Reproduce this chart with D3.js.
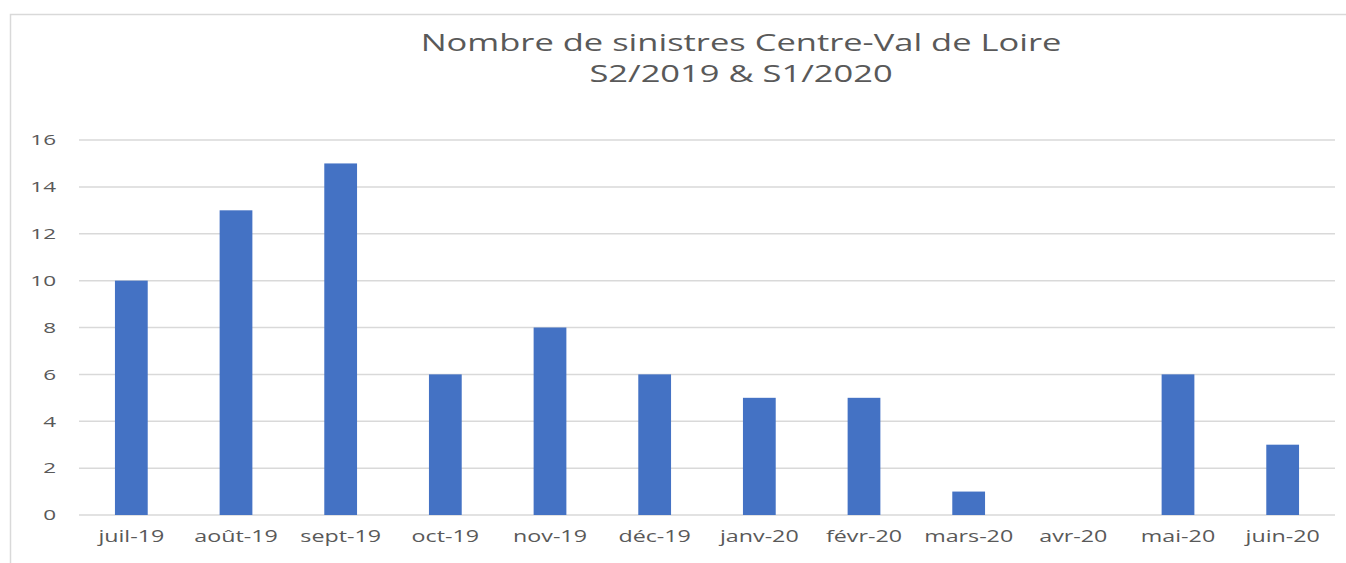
<!DOCTYPE html>
<html>
<head>
<meta charset="utf-8">
<script src="https://cdn.jsdelivr.net/npm/d3@7"></script>
<style>
  body { margin: 0; background: #fff; }
  text { font-family: "Open Sans", sans-serif; fill: #595959; }
</style>
</head>
<body>
<svg id="chart" width="1346" height="563"></svg>
<script>
// data
var months = [ "juil-19", "août-19", "sept-19", "oct-19", "nov-19", "déc-19",
               "janv-20", "févr-20", "mars-20", "avr-20", "mai-20", "juin-20" ];
var sinistres = [ 10, 13, 15, 6, 8, 6, 5, 5, 1, 0, 6, 3 ];
var yTicks = [ 0, 2, 4, 6, 8, 10, 12, 14, 16 ];
var titleLines = [ "Nombre de sinistres Centre-Val de Loire", "S2/2019 & S1/2020" ];

// the picture is stretched sideways, so the text is too
var stretch = 1.5;

var svg = d3.select( "#chart" ),
    width = +svg.attr( "width" ),
    height = +svg.attr( "height" );

// chart frame
svg.append( "rect" )
    .attr( "x", 10.5 ).attr( "y", 14.5 )
    .attr( "width", 1360 ).attr( "height", 600 )
    .attr( "fill", "none" )
    .attr( "stroke", "#d9d9d9" )
    .attr( "stroke-width", 1.5 );

var plot = { left: 79, right: 1335, top: 140, bottom: 515 };

var x = d3.scaleBand()
    .domain( months )
    .range( [ plot.left, plot.right ] )
    .padding( 0 );

var y = d3.scaleLinear()
    .domain( [ 0, 16 ] )
    .range( [ plot.bottom, plot.top ] );

var barW = x.bandwidth() * 0.313;

function place( px, py )
{
    return "translate(" + px + "," + py + ") scale(" + stretch + ",1)";
}

// gridlines
svg.append( "g" )
    .selectAll( "line" )
    .data( yTicks )
    .enter().append( "line" )
    .attr( "x1", plot.left ).attr( "x2", plot.right )
    .attr( "y1", function( d ) { return y( d ); } )
    .attr( "y2", function( d ) { return y( d ); } )
    .attr( "stroke", "#d9d9d9" )
    .attr( "stroke-width", 1.5 );

// y labels
svg.append( "g" )
    .selectAll( "text" )
    .data( yTicks )
    .enter().append( "text" )
    .attr( "transform", function( d ) { return place( 56, y( d ) ); } )
    .attr( "dy", "0.35em" )
    .attr( "text-anchor", "end" )
    .style( "font-size", "15px" )
    .text( function( d ) { return d; } );

// bars
svg.append( "g" )
    .selectAll( "rect" )
    .data( sinistres )
    .enter().append( "rect" )
    .attr( "x", function( d, i ) { return x( months[ i ] ) + ( x.bandwidth() - barW ) / 2; } )
    .attr( "width", barW )
    .attr( "y", function( d ) { return y( d ); } )
    .attr( "height", function( d ) { return y( 0 ) - y( d ); } )
    .attr( "fill", "#4472c4" );

// x labels
svg.append( "g" )
    .selectAll( "text" )
    .data( months )
    .enter().append( "text" )
    .attr( "transform", function( d ) { return place( x( d ) + x.bandwidth() / 2, 542 ); } )
    .attr( "text-anchor", "middle" )
    .style( "font-size", "15.5px" )
    .text( function( d ) { return d; } );

// title
svg.append( "g" )
    .selectAll( "text" )
    .data( titleLines )
    .enter().append( "text" )
    .attr( "transform", function( d, i ) { return place( 741, 51 + i * 31 ); } )
    .attr( "text-anchor", "middle" )
    .style( "font-size", "23px" )
    .text( function( d ) { return d; } );
</script>
</body>
</html>
